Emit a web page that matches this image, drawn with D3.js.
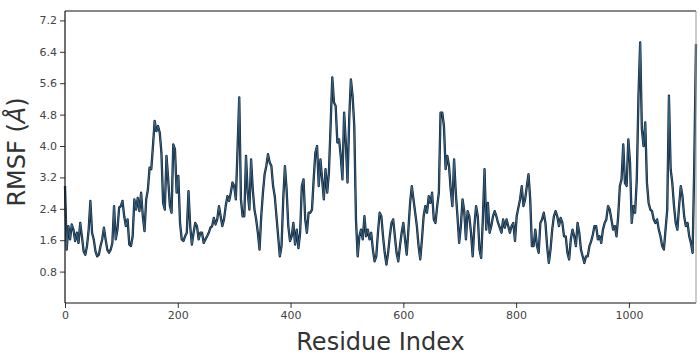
<!DOCTYPE html>
<html>
<head>
<meta charset="utf-8">
<script src="https://cdn.jsdelivr.net/npm/d3@7"></script>
<style>
  body { margin: 0; background: #fff; }
  svg text { font-family: "DejaVu Sans", sans-serif; }
</style>
</head>
<body>
<div id="chart"></div>
<script>
// RMSF per residue, one value every 3 residues
const residueStep = 3;
const rmsf = [
  2.98, 1.36, 1.96, 1.62, 2.00, 1.87, 1.58, 1.79, 1.53, 2.04,
  1.70, 1.32, 1.23, 1.45, 1.87, 2.60, 1.79, 1.62, 1.32, 1.19,
  1.23, 1.45, 1.62, 1.92, 1.62, 1.36, 1.28, 1.36, 1.53, 2.47,
  1.62, 1.87, 2.43, 2.47, 2.60, 2.21, 1.96, 2.13, 1.49, 1.45,
  1.70, 2.64, 2.38, 2.68, 2.34, 2.81, 2.21, 1.83, 2.64, 2.89,
  3.45, 3.41, 4.00, 4.64, 4.38, 4.51, 4.34, 3.83, 2.55, 2.38,
  3.75, 3.15, 2.47, 2.30, 4.04, 3.92, 2.81, 3.24, 2.04, 1.62,
  1.58, 1.70, 1.79, 2.85, 1.96,
  1.49, 1.79, 2.04, 1.96, 1.62, 1.79, 1.79, 1.53, 1.62, 1.70,
  1.79, 1.92, 1.96, 2.17, 2.00, 2.13, 2.47, 2.21, 1.96, 2.13,
  2.47, 2.72, 2.60, 2.81, 3.07, 2.98, 2.64, 3.92, 5.24, 2.64,
  2.21, 2.21, 3.75, 2.81, 2.38, 3.66, 2.89, 2.38, 2.13, 1.79,
  1.36, 2.21, 2.81, 3.28, 3.49, 3.79, 3.58, 3.49, 2.98, 2.72,
  2.21, 1.70, 1.19, 1.45, 2.64, 3.49, 2.89, 1.96, 1.58, 1.70,
  2.04, 1.49, 1.87, 1.40, 1.79, 2.98, 3.15, 2.13, 1.79, 2.30,
  2.30, 2.38, 3.15, 3.83,
  4.00, 2.98, 3.66, 3.15, 2.64, 3.41, 2.81, 3.32, 4.51, 5.75,
  5.11, 5.02, 4.09, 4.17, 3.75, 3.15, 4.85, 4.09, 3.07, 4.68,
  5.70, 5.28, 4.51, 2.13, 1.19, 1.70, 1.87, 1.62, 2.21, 1.70,
  1.87, 1.62, 1.79, 1.36, 1.06, 1.19, 1.79, 2.30, 2.21, 1.70,
  1.28, 0.98, 1.28, 1.70, 2.04, 2.13, 1.70, 1.28, 1.06, 1.45,
  1.79, 2.04, 1.62, 1.23, 1.87, 2.55, 2.98, 2.64, 2.30, 1.96,
  1.45, 1.11, 1.62, 2.21, 2.47, 2.30, 2.72, 2.55, 2.81, 2.13,
  2.04, 2.47, 2.81, 4.85,
  4.85, 4.51, 3.41, 3.75, 3.49, 2.89, 2.47, 3.66, 2.81, 2.21,
  1.53, 1.96, 2.64, 2.34, 1.62, 2.34, 2.21, 1.79, 1.19, 1.96,
  2.47, 2.21, 1.36, 1.15, 2.13, 3.41, 1.87, 2.55, 1.79, 1.96,
  2.21, 2.34, 2.21, 2.04, 1.92, 1.79, 2.13, 1.92, 2.13, 1.96,
  1.79, 1.96, 2.04, 1.58, 2.21, 2.43, 2.64, 2.98, 2.47, 2.64,
  2.98, 3.28, 2.64, 1.45, 1.45, 1.87, 1.45, 1.28, 2.04, 2.13,
  2.30, 2.04, 1.45, 1.02, 1.36, 1.87, 2.21, 2.34, 2.21, 1.96,
  2.17, 2.04, 1.70, 1.70,
  1.28, 1.11, 1.62, 1.87, 1.70, 1.45, 2.04, 1.79, 1.36, 1.19,
  1.02, 1.19, 1.19, 1.45, 1.57, 1.74, 1.96, 1.96, 1.62, 1.70,
  1.53, 1.87, 2.04, 2.13, 2.47, 2.38, 2.13, 1.87, 1.96, 1.70,
  2.21, 2.98, 3.15, 4.04, 3.06, 2.98, 4.17, 3.58, 2.04, 2.47,
  2.30, 3.15, 5.28, 6.64, 4.43, 4.00, 4.60, 3.06, 2.55, 2.38,
  2.34, 2.13, 2.04, 2.13, 1.87, 1.70, 1.45, 1.36, 1.87, 2.38,
  5.28, 3.41, 3.06, 2.47, 2.04, 1.87, 2.47, 2.98, 2.72, 2.21,
  1.96, 2.04, 1.70, 1.53, 1.28, 3.58, 6.60
];
const yTicks = [0.8, 1.6, 2.4, 3.2, 4.0, 4.8, 5.6, 6.4, 7.2];
const xTicks = [0, 200, 400, 600, 800, 1000];

const data = rmsf.map((v, i) => ({ residue: i * residueStep, rmsf: v }));

// Set up the dimensions of the chart
const totalWidth = 700, totalHeight = 364;
const margin = { top: 11, right: 4, bottom: 61, left: 65 };
const width = totalWidth - margin.left - margin.right;
const height = totalHeight - margin.top - margin.bottom;

const svg = d3.select("#chart")
  .append("svg")
  .attr("width", totalWidth)
  .attr("height", totalHeight)
  .append("g")
  .attr("transform", `translate(${margin.left},${margin.top})`);

const xScale = d3.scaleLinear()
  .domain([0, (rmsf.length - 1) * residueStep])
  .range([0, width]);

const yScale = d3.scaleLinear()
  .domain([0, 7.44])
  .range([height, 0]);

// Axes
const xAxis = svg.append("g")
  .attr("transform", `translate(0,${height})`)
  .call(d3.axisBottom(xScale).tickValues(xTicks).tickFormat(d3.format("d")).tickSize(5).tickPadding(3));

const yAxis = svg.append("g")
  .call(d3.axisLeft(yScale).tickValues(yTicks).tickFormat(d3.format(".1f")).tickSize(5).tickPadding(3));

[xAxis, yAxis].forEach(ax => {
  ax.select(".domain").remove();
  ax.selectAll(".tick line").attr("stroke", "#333").attr("stroke-width", 1);
  ax.selectAll(".tick text")
    .attr("fill", "#444")
    .style("font-size", "11px")
    .style("font-family", "'DejaVu Sans', sans-serif");
});

// The line: dark outline with a lighter steel-blue core
const line = d3.line()
  .x(d => xScale(d.residue))
  .y(d => yScale(d.rmsf));

svg.append("path")
  .datum(data)
  .attr("fill", "none")
  .attr("stroke", "#0e2236")
  .attr("stroke-width", 2.3)
  .attr("stroke-linejoin", "round")
  .attr("d", line);

svg.append("path")
  .datum(data)
  .attr("fill", "none")
  .attr("stroke", "#3f6c8b")
  .attr("stroke-width", 0.9)
  .attr("stroke-linejoin", "round")
  .attr("d", line);

// Frame
svg.append("line").attr("x1", 0).attr("x2", 0).attr("y1", 0).attr("y2", height)
  .attr("stroke", "#111").attr("stroke-width", 1.2);
svg.append("line").attr("x1", 0).attr("x2", width).attr("y1", height).attr("y2", height)
  .attr("stroke", "#111").attr("stroke-width", 1.2);
svg.append("line").attr("x1", 0).attr("x2", width).attr("y1", 0).attr("y2", 0)
  .attr("stroke", "#111").attr("stroke-width", 1.2);
svg.append("line").attr("x1", width).attr("x2", width).attr("y1", 0).attr("y2", height)
  .attr("stroke", "#999").attr("stroke-width", 1);

// Axis labels
svg.append("text")
  .attr("x", width / 2)
  .attr("y", height + 47)
  .attr("text-anchor", "middle")
  .attr("fill", "#333")
  .style("font-size", "24px")
  .text("Residue Index");

const yLabel = svg.append("text")
  .attr("transform", `translate(${-40},${height / 2 - 5}) rotate(-90)`)
  .attr("text-anchor", "middle")
  .attr("fill", "#333")
  .style("font-size", "24px");
yLabel.append("tspan").text("RMSF (");
yLabel.append("tspan").style("font-style", "italic").text("Å");
yLabel.append("tspan").text(")");
</script>
</body>
</html>
